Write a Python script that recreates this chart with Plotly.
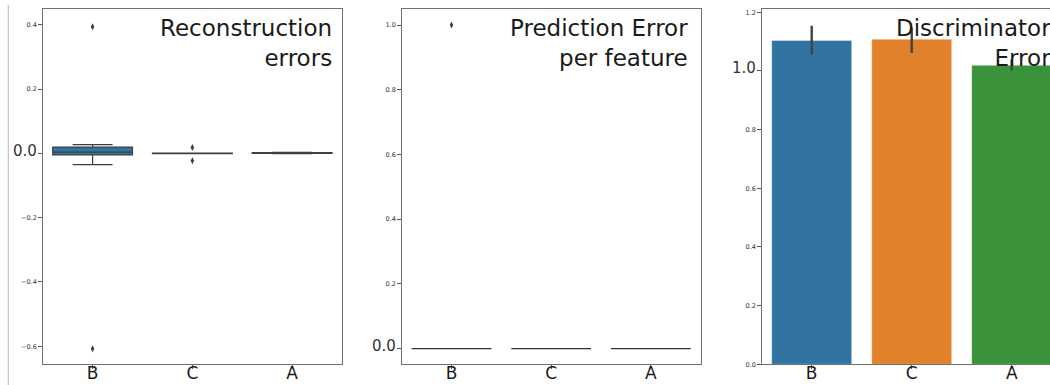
import plotly.graph_objects as go

# Categories (same order in every panel)
groups = ["B", "C", "A"]
colors = ["#3274a1", "#e1812c", "#3a923a"]

# Reconstruction errors: box statistics per group
rec_lower = [-0.035, -0.001, -0.001]
rec_q1 = [-0.005, -0.001, -0.0005]
rec_median = [0.004, 0.0, 0.001]
rec_q3 = [0.0195, 0.001, 0.002]
rec_upper = [0.027, 0.001, 0.003]
rec_outliers = {"B": [0.394, -0.608], "C": [0.0186, -0.023], "A": []}

# Prediction error per feature: box statistics per group
pred_lower = [0.0, 0.0, 0.0]
pred_q1 = [0.0, 0.0, 0.0]
pred_median = [0.0, 0.0, 0.0]
pred_q3 = [0.0, 0.0, 0.0]
pred_upper = [0.0, 0.0, 0.0]
pred_outliers = {"B": [1.0], "C": [], "A": []}

# Discriminator error: mean with confidence interval
disc_mean = [1.104, 1.108, 1.019]
disc_ci_low = [1.056, 1.061, 1.001]
disc_ci_high = [1.154, 1.147, 1.039]

# Tick labels
rec_ticks = [-0.6, -0.4, -0.2, 0.0, 0.2, 0.4]
pred_ticks = [0.0, 0.2, 0.4, 0.6, 0.8, 1.0]
disc_ticks = [0.0, 0.2, 0.4, 0.6, 0.8, 1.0, 1.2]

FONT = "DejaVu Sans"
EDGE = "#3f3f3f"
W, H = 1050, 385


def tick_text(vals, big):
    out = []
    for v in vals:
        s = f"{v:.1f}".replace("-", "\u2212")
        if abs(v - big) < 1e-9:
            s = f'<span style="font-size:15px">{s}</span>'
        out.append(s)
    return out


fig = go.Figure()

# --- panel 1: reconstruction errors
for i, g in enumerate(groups):
    fig.add_trace(go.Box(
        x=[g], q1=[rec_q1[i]], median=[rec_median[i]], q3=[rec_q3[i]],
        lowerfence=[rec_lower[i]], upperfence=[rec_upper[i]],
        fillcolor=colors[i], line=dict(color=EDGE, width=1.2),
        width=0.8, whiskerwidth=0.5, boxpoints=False,
        xaxis="x", yaxis="y", showlegend=False,
    ))
    if rec_outliers[g]:
        fig.add_trace(go.Scatter(
            x=[g] * len(rec_outliers[g]), y=rec_outliers[g], mode="markers",
            marker=dict(symbol="diamond-tall", size=5, color=EDGE),
            xaxis="x", yaxis="y", showlegend=False,
        ))

# --- panel 2: prediction error per feature
for i, g in enumerate(groups):
    fig.add_trace(go.Box(
        x=[g], q1=[pred_q1[i]], median=[pred_median[i]], q3=[pred_q3[i]],
        lowerfence=[pred_lower[i]], upperfence=[pred_upper[i]],
        fillcolor=colors[i], line=dict(color="#333333", width=1.2),
        width=0.8, whiskerwidth=0.5, boxpoints=False,
        xaxis="x2", yaxis="y2", showlegend=False,
    ))
    if pred_outliers[g]:
        fig.add_trace(go.Scatter(
            x=[g] * len(pred_outliers[g]), y=pred_outliers[g], mode="markers",
            marker=dict(symbol="diamond-tall", size=5, color=EDGE),
            xaxis="x2", yaxis="y2", showlegend=False,
        ))

# --- panel 3: discriminator error bars
fig.add_trace(go.Bar(
    x=groups, y=disc_mean, width=0.8,
    marker=dict(color=colors, line=dict(color="rgba(255,255,255,0.5)", width=0.8)),
    error_y=dict(
        type="data", symmetric=False,
        array=[h - m for h, m in zip(disc_ci_high, disc_mean)],
        arrayminus=[m - l for m, l in zip(disc_mean, disc_ci_low)],
        color="#424242", thickness=2.4, width=0,
    ),
    xaxis="x3", yaxis="y3", showlegend=False,
))

# Layout geometry (pixels -> paper fractions)
def px(x):
    return x / W


def py(y):
    return 1 - y / H


y_dom = [py(364.3), py(9.3)]
axis_common = dict(
    showline=True, linecolor="#707070", linewidth=1, showgrid=False,
    zeroline=False, ticks="outside", ticklen=3.5, tickcolor="#555555",
    tickwidth=0.8, automargin=False,
)
xfont = dict(family=FONT, size=17, color="#1a1a1a")
yfont = dict(family=FONT, size=6.5, color="#333333")
x_extra = dict(ticklabelstandoff=-10)

fig.update_layout(
    width=W, height=H,
    margin=dict(l=0, r=0, t=0, b=0, autoexpand=False),
    paper_bgcolor="white", plot_bgcolor="white",
    boxmode="overlay",
    font=dict(family=FONT, color="#262626"),
    xaxis=dict(domain=[px(42.7), px(342)], type="category", range=[-0.5, 2.5],
               categoryorder="array", categoryarray=groups, mirror=True,
               tickfont=xfont, anchor="y", **x_extra, **axis_common),
    yaxis=dict(domain=y_dom, range=[-0.656, 0.448], tickvals=rec_ticks,
               ticktext=tick_text(rec_ticks, 0.0), mirror=True,
               tickfont=yfont, anchor="x", **axis_common),
    xaxis2=dict(domain=[px(401.7), px(700.7)], type="category", range=[-0.5, 2.5],
                categoryorder="array", categoryarray=groups, mirror=True,
                tickfont=xfont, anchor="y2", **x_extra, **axis_common),
    yaxis2=dict(domain=y_dom, range=[-0.0486, 1.0486], tickvals=pred_ticks,
                ticktext=tick_text(pred_ticks, 0.0), mirror=True,
                tickfont=yfont, anchor="x2", **axis_common),
    xaxis3=dict(domain=[px(761.7), 1.0], type="category", range=[-0.5, 2.383],
                categoryorder="array", categoryarray=groups, mirror=True,
                tickfont=xfont, anchor="y3", **x_extra, **axis_common),
    yaxis3=dict(domain=y_dom, range=[0, 1.21], tickvals=disc_ticks,
                ticktext=tick_text(disc_ticks, 1.0), mirror=False,
                tickfont=yfont, anchor="x3", **axis_common),
)

title_font = dict(family=FONT, size=23, color="#1a1a1a")
fig.add_annotation(text="Reconstruction<br>errors", xref="x domain", yref="y domain",
                   x=1, y=1, xshift=-8, yshift=-4, xanchor="right", yanchor="top",
                   align="right", showarrow=False, font=title_font)
fig.add_annotation(text="Prediction Error<br>per feature", xref="x2 domain", yref="y2 domain",
                   x=1, y=1, xshift=-11, yshift=-4, xanchor="right", yanchor="top",
                   align="right", showarrow=False, font=title_font)
fig.add_annotation(text="Discriminator<br>Error", xref="x3 domain", yref="y3 domain",
                   x=1, y=1, xshift=3, yshift=-4, xanchor="right", yanchor="top",
                   align="right", showarrow=False, font=title_font)

# Thin border along the left edge of the figure
fig.add_shape(type="line", xref="paper", yref="paper", x0=px(8.3), x1=px(8.3),
              y0=0, y1=py(5), line=dict(color="#c0c0c0", width=1.2))

fig.write_html("out.html")
